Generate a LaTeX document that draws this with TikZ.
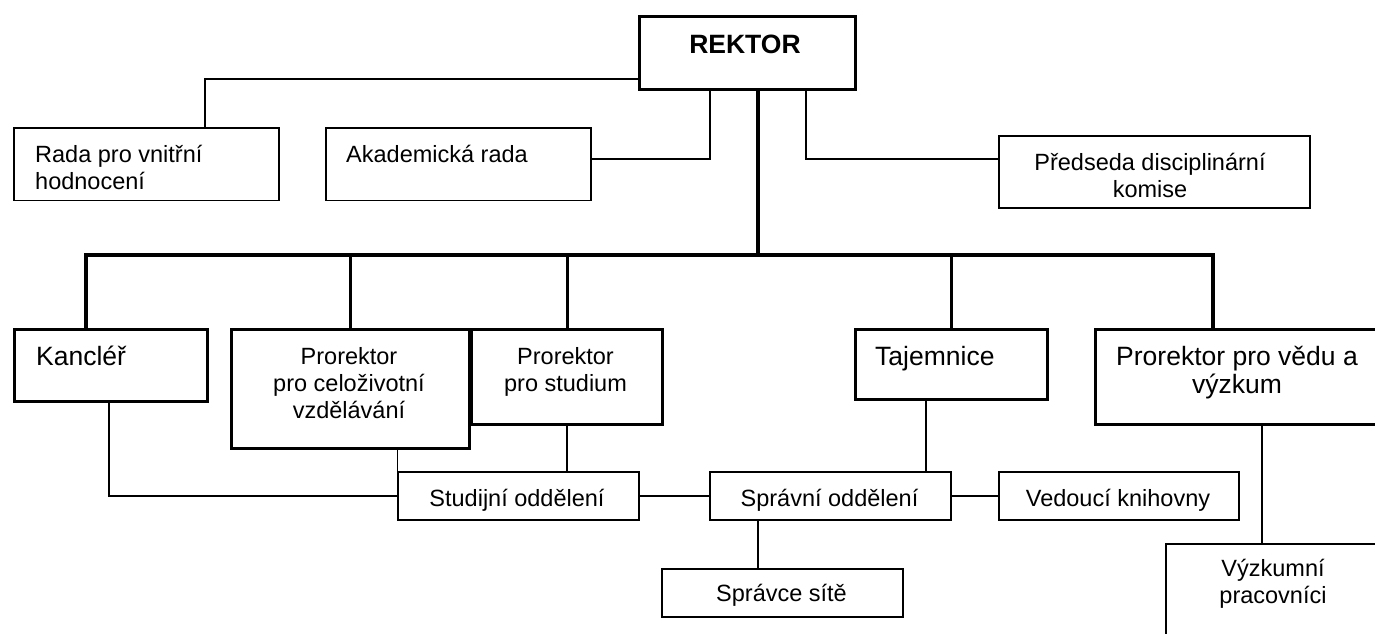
\documentclass[tikz,border=0pt]{standalone}
\usepackage{fontspec}
\setmainfont{Liberation Sans}
\newcommand\fs{\fontsize{23.5}{27}\selectfont}
\newcommand\fb{\fontsize{26.5}{27}\selectfont}
\newcommand\colL[1]{\begin{tabular}[t]{@{}l@{}}#1\end{tabular}}
\newcommand\colC[1]{\begin{tabular}[t]{@{}c@{}}#1\end{tabular}}
\tikzset{
  thinline/.style={line width=1.5pt},
  thickline/.style={line width=3.2pt},
  tbox/.style={draw, thinline, inner sep=0pt, anchor=north west},
  bbox/.style={draw, thickline, inner sep=0pt, anchor=north west},
  txtL/.style={inner sep=0pt, anchor=base west},
  txtC/.style={inner sep=0pt, anchor=base},
}
\begin{document}
\begin{tikzpicture}[x=1pt,y=-1pt]
\useasboundingbox (0,0) rectangle (1375,633);
\fill[white] (0,0) rectangle (1375,633);
\clip (0,0) rectangle (1375,633);

% boxes
\node[bbox, minimum width=216.5pt, minimum height=73pt] (rektor) at (637.5,15) {};
\node[tbox, minimum width=265pt, minimum height=72.5pt] (rada) at (13,127) {};
\node[tbox, minimum width=265pt, minimum height=72.5pt] (akad) at (325,127) {};
\node[tbox, minimum width=311pt, minimum height=72pt] (predseda) at (998,135) {};
\node[bbox, minimum width=193pt, minimum height=72pt] (kancler) at (13,328) {};
\node[bbox, minimum width=191pt, minimum height=95pt] (studium) at (470,328) {};
\node[bbox, minimum width=238pt, minimum height=119pt] (celoz) at (230,328) {};
\node[bbox, minimum width=192pt, minimum height=70pt] (tajemnice) at (854,328) {};
\node[bbox, minimum width=290pt, minimum height=95pt] (veda) at (1094,328) {};
\node[tbox, minimum width=241pt, minimum height=48pt] (studijni) at (397,471) {};
\node[tbox, minimum width=241pt, minimum height=48pt] (spravni) at (709,471) {};
\node[tbox, minimum width=240pt, minimum height=48pt] (vedouci) at (998,471) {};
\node[tbox, minimum width=241pt, minimum height=48pt] (spravce) at (661,568) {};
\node[tbox, minimum width=220pt, minimum height=110pt] (vyzkum) at (1165,543) {};

% texts
\node[txtC] (t-rektor) at (745,53) {\fb\bfseries REKTOR};
\node[txtL] (t-rada) at (35,162.5) {\fs\colL{Rada pro vnitřní\\hodnocení}};
\node[txtL] (t-akad) at (346,162.5) {\fs Akademická rada};
\node[txtC] (t-predseda) at (1150,170) {\fs\colC{Předseda disciplinární\\komise}};
\node[txtL] (t-kancler) at (36,365.5) {\fb Kancléř};
\node[txtC] (t-celoz) at (349,364) {\fs\colC{Prorektor\\pro celoživotní\\vzdělávání}};
\node[txtC] (t-studium) at (565.5,364) {\fs\colC{Prorektor\\pro studium}};
\node[txtL] (t-tajemnice) at (875,365.5) {\fb Tajemnice};
\node[txtC] (t-veda) at (1237,365.5) {\fb\colC{Prorektor pro vědu a\\výzkum}};
\node[txtC] (t-studijni) at (517,506) {\fs Studijní oddělení};
\node[txtC] (t-spravni) at (829.5,506) {\fs Správní oddělení};
\node[txtC] (t-vedouci) at (1118,506) {\fs Vedoucí knihovny};
\node[txtC] (t-spravce) at (781.5,601) {\fs Správce sítě};
\node[txtC] (t-vyzkum) at (1273,576) {\fs\colC{Výzkumní\\pracovníci}};

% upper thin connectors
\coordinate (jR) at (205,79);
\draw[thinline] (rektor.west |- jR) -| (rada.north -| jR);
\coordinate (jA) at (710,159);
\draw[thinline] (akad.east |- jA) -| (rektor.south -| jA);
\coordinate (jP) at (806,159);
\draw[thinline] (rektor.south -| jP) |- (predseda.west |- jP);

% main trunk and bus
\coordinate (bus) at (758,255);
\coordinate (dK) at (86,255);
\coordinate (dV) at (1213,255);
\draw[thickline] (rektor.south -| bus) -- (bus);
\draw[thickline] (kancler.north -| dK) -- (dK) -- (dV) -- (veda.north -| dV);
\draw[thickline] (celoz.north |- bus) -- (celoz.north);
\draw[thickline] (studium.north |- bus) -- (studium.north);
\draw[thickline] (tajemnice.north |- bus) -- (tajemnice.north);

% lower connectors
\coordinate (kL) at (109,495);
\draw[thinline] (kancler.south -| kL) |- (studijni.west);
\coordinate (cS) at (397.5,0);
\draw[thinline] (celoz.south -| cS) -- (studijni.north -| cS);
\draw[thinline] (studium.south) -- (studijni.north -| studium.south);
\draw[thinline] (studijni.east) -- (spravni.west);
\coordinate (tS) at (926,0);
\draw[thinline] (tajemnice.south -| tS) -- (spravni.north -| tS);
\draw[thinline] (spravni.east) -- (vedouci.west);
\coordinate (sS) at (758,0);
\draw[thinline] (spravni.south -| sS) -- (spravce.north -| sS);
\coordinate (vS) at (1262,0);
\draw[thinline] (veda.south -| vS) -- (vyzkum.north -| vS);
\end{tikzpicture}
\end{document}
